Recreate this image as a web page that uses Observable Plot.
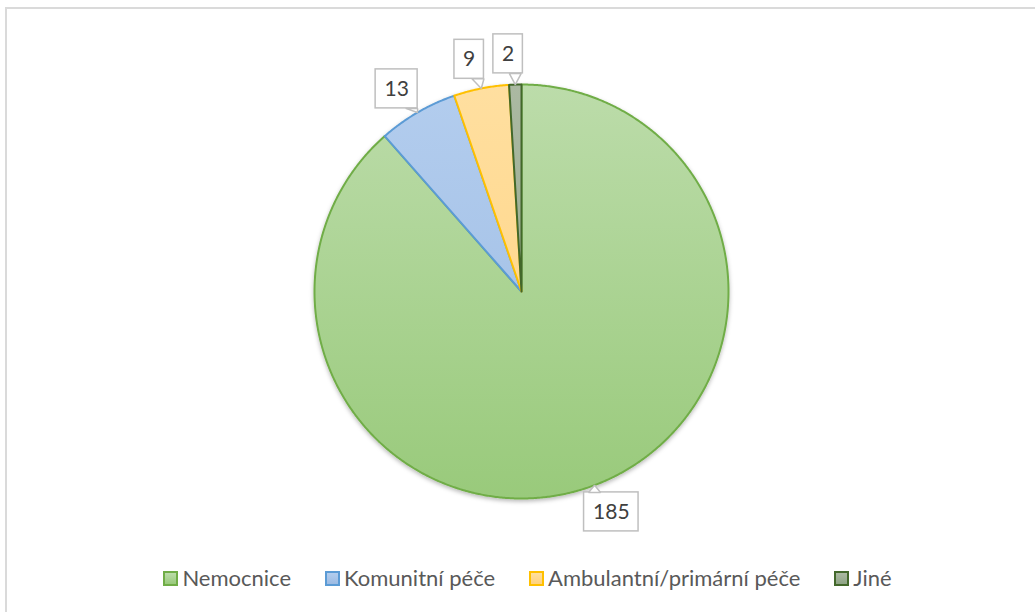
<!DOCTYPE html>
<html>
<head>
<meta charset="utf-8">
<script src="https://cdn.jsdelivr.net/npm/d3@7"></script>
<script src="https://cdn.jsdelivr.net/npm/@observablehq/plot@0.6"></script>
<style>
  html, body { margin: 0; padding: 0; background: #fff; overflow: hidden; }
  #wrap { position: relative; width: 1035px; height: 612px; overflow: hidden; }
  #frame { position: absolute; left: 5px; top: 7px; width: 1100px; height: 700px; border: 2px solid #dadada; box-sizing: border-box; }
  #chart { position: absolute; left: 0; top: 0; }
  #legend { position: absolute; left: 0; top: 565px; width: 1035px; padding-left: 20px; box-sizing: border-box;
    display: flex; justify-content: center; align-items: center; gap: 34px;
    font-family: Lato, "Open Sans", sans-serif; font-size: 22px; color: #595959; line-height: 26px; }
  .item { display: flex; align-items: center; gap: 4px; }
  .sw { width: 11px; height: 11px; border: 2px solid; }
</style>
</head>
<body>
<div id="wrap">
  <div id="frame"></div>
  <div id="chart"></div>
  <div id="legend"></div>
</div>
<script>
// ---- data ----
const categories = ["Nemocnice", "Komunitní péče", "Ambulantní/primární péče", "Jiné"];
const values = [185, 13, 9, 2];

// ---- styles ----
const strokeColors = ["#70ad47", "#5b9bd5", "#ffc000", "#43682b"];
const fillTop = ["#bcdcaa", "#b3cdee", "#ffdfa0", "#abb9a2"];
const fillBottom = ["#99ca7b", "#9cbbe3", "#ffd27e", "#8fa485"];

const W = 1035, H = 560;
const CX = 521, CY = 291;   // pie centre in pixels
const R = 207;              // radius in pixels
const LABEL_R = 238, LABEL_SHIFT = -1.5 * Math.PI / 180;

const arcs = d3.pie().sort(null).value(d => d)(values);

// slice outlines (derived from values)
const slices = [];
arcs.forEach((a, i) => {
  const cat = categories[i];
  slices.push({cat, i, x: 0, y: 0});
  const n = Math.max(2, Math.ceil((a.endAngle - a.startAngle) / (0.4 * Math.PI / 180)));
  for (let k = 0; k <= n; k++) {
    const t = a.startAngle + (a.endAngle - a.startAngle) * k / n;
    slices.push({cat, i, x: R * Math.sin(t), y: -R * Math.cos(t)});
  }
});

// callouts
const labels = [], boxes = [], wedges = [];
arcs.forEach((a, i) => {
  const mid = (a.startAngle + a.endAngle) / 2;
  const ax = R * Math.sin(mid), ay = -R * Math.cos(mid);
  const lt = mid + LABEL_SHIFT;
  const lx = LABEL_R * Math.sin(lt), ly = -LABEL_R * Math.cos(lt);
  const txt = String(values[i]);
  const w = txt.length * 12.5 + 17, h = 39;
  const left = lx - w / 2, right = lx + w / 2, top = ly - h / 2, bottom = ly + h / 2;
  labels.push({x: lx, y: ly, text: txt});
  boxes.push({x1: left, x2: right, y1: top, y2: bottom});
  let p1, p2;
  if (ay < top || ay > bottom) {
    const ey = ay < top ? top : bottom;
    const bx0 = Math.max(left, Math.min(right - 12, ax - 6));
    p1 = [bx0, ey]; p2 = [bx0 + 12, ey];
  } else {
    const ex = ax < left ? left : right;
    const by0 = Math.max(top, Math.min(bottom - 12, ay - 6));
    p1 = [ex, by0]; p2 = [ex, by0 + 12];
  }
  wedges.push({k: i, x: ax, y: ay}, {k: i, x: p1[0], y: p1[1]}, {k: i, x: p2[0], y: p2[1]});
});

const chart = Plot.plot({
  width: W, height: H,
  margin: 0,
  style: {fontFamily: "Lato, 'Open Sans', sans-serif", background: "transparent", overflow: "visible"},
  x: {domain: [-CX, W - CX], range: [0, W], axis: null},
  y: {domain: [-CY, H - CY], range: [0, H], axis: null},
  marks: [
    Plot.line(slices, {x: "x", y: "y", z: "cat", curve: "linear-closed",
      fill: d => `url(#grad${d.i})`, stroke: d => strokeColors[d.i], strokeWidth: 2, strokeLinejoin: "round"}),
    Plot.rect(boxes, {x1: "x1", x2: "x2", y1: "y1", y2: "y2", fill: "white", stroke: "#bfbfbf", strokeWidth: 1.5}),
    Plot.line(wedges, {x: "x", y: "y", z: "k", curve: "linear-closed", fill: "white", stroke: "#bfbfbf", strokeWidth: 1.5, strokeLinejoin: "miter"}),
    Plot.text(labels, {x: "x", y: "y", text: "text", fontSize: 21, fill: "#404040"})
  ]
});

// gradients + shadow
const svg = d3.select(chart);
const ys = chart.scale("y");
const defs = svg.insert("defs", ":first-child");
categories.forEach((c, i) => {
  const g = defs.append("linearGradient").attr("id", `grad${i}`)
    .attr("gradientUnits", "userSpaceOnUse")
    .attr("x1", 0).attr("x2", 0)
    .attr("y1", ys.apply(-R)).attr("y2", ys.apply(R));
  g.append("stop").attr("offset", "0%").attr("stop-color", fillTop[i]);
  g.append("stop").attr("offset", "100%").attr("stop-color", fillBottom[i]);
});
const f = defs.append("filter").attr("id", "shadow").attr("x", "-10%").attr("y", "-10%").attr("width", "120%").attr("height", "120%");
f.append("feDropShadow").attr("dx", 0).attr("dy", 2).attr("stdDeviation", 2).attr("flood-color", "#000").attr("flood-opacity", 0.28);
svg.select('g[aria-label="line"]').attr("filter", "url(#shadow)");

document.getElementById("chart").appendChild(chart);

// legend
const legend = d3.select("#legend");
categories.forEach((c, i) => {
  const it = legend.append("div").attr("class", "item");
  it.append("span").attr("class", "sw")
    .style("border-color", strokeColors[i])
    .style("background", `linear-gradient(${fillTop[i]}, ${fillBottom[i]})`);
  it.append("span").text(c);
});
</script>
</body>
</html>
